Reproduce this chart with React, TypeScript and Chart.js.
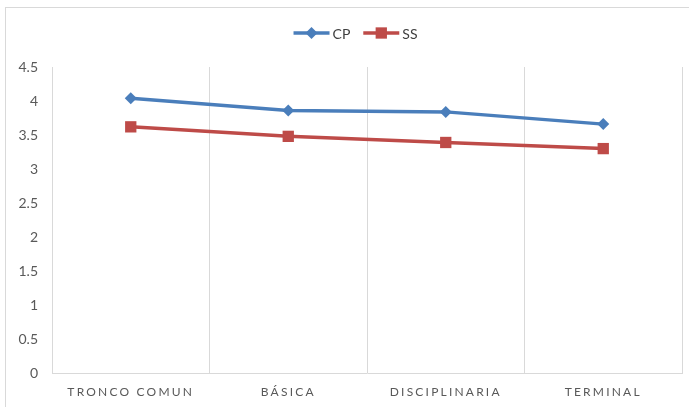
import React, { useEffect, useRef } from "react";
import { Chart, registerables } from "chart.js";

Chart.register(...registerables);

const categories = ["TRONCO COMUN", "BÁSICA", "DISCIPLINARIA", "TERMINAL"];
const cpValues = [4.04, 3.86, 3.84, 3.66];
const ssValues = [3.62, 3.48, 3.39, 3.3];
const seriesNames = ["CP", "SS"];
const yMin = 0;
const yMax = 4.5;
const yStep = 0.5;

const BLUE = "#4A7EBB";
const RED = "#BE4B48";
const FONT = "Lato, 'Open Sans', sans-serif";

function drawMarker(ctx: CanvasRenderingContext2D, style: string, r: number, x: number, y: number, color: string) {
  ctx.save();
  ctx.fillStyle = color;
  ctx.beginPath();
  if (style === "rectRot") {
    ctx.moveTo(x, y - r);
    ctx.lineTo(x + r, y);
    ctx.lineTo(x, y + r);
    ctx.lineTo(x - r, y);
    ctx.closePath();
  } else {
    const s = Math.SQRT1_2 * r;
    ctx.rect(x - s, y - s, 2 * s, 2 * s);
  }
  ctx.fill();
  ctx.restore();
}

const legendPlugin = {
  id: "lineLegend",
  afterDraw(chart: any) {
    const ctx = chart.ctx;
    const items = [
      { label: seriesNames[0], color: BLUE, style: "rectRot", r: 6 },
      { label: seriesNames[1], color: RED, style: "rect", r: 8 },
    ];
    ctx.save();
    ctx.font = `14px ${FONT}`;
    const lineW = 36;
    const gapText = 3;
    const gapItem = 13;
    let total = 0;
    items.forEach((it, i) => {
      total += lineW + gapText + ctx.measureText(it.label).width;
      if (i < items.length - 1) total += gapItem;
    });
    let x = (chart.width - total) / 2 + 10;
    const y = 33;
    items.forEach((it) => {
      ctx.strokeStyle = it.color;
      ctx.lineWidth = 3.5;
      ctx.beginPath();
      ctx.moveTo(x, y);
      ctx.lineTo(x + lineW, y);
      ctx.stroke();
      drawMarker(ctx, it.style, it.r, x + lineW / 2, y, it.color);
      x += lineW + gapText;
      ctx.fillStyle = "#404040";
      ctx.textBaseline = "middle";
      ctx.textAlign = "left";
      ctx.fillText(it.label, x, y + 1);
      x += ctx.measureText(it.label).width + gapItem;
    });
    ctx.restore();
  },
};

const spacingPlugin = {
  id: "xLetterSpacing",
  beforeDraw(chart: any) {
    const s = chart.scales.x;
    if (s && !s.__wrapped) {
      const orig = s.drawLabels.bind(s);
      s.drawLabels = (area: any) => {
        const ctx = chart.ctx;
        ctx.save();
        (ctx as any).letterSpacing = "2.2px";
        orig(area);
        ctx.restore();
      };
      s.__wrapped = true;
    }
  },
};

export default function App() {
  const ref = useRef<HTMLCanvasElement | null>(null);

  useEffect(() => {
    document.body.style.margin = "0";
    if (!ref.current) return;
    const chart = new Chart(ref.current, {
      type: "line",
      data: {
        labels: categories,
        datasets: [
          {
            label: seriesNames[0],
            data: cpValues,
            borderColor: BLUE,
            backgroundColor: BLUE,
            borderWidth: 3.5,
            pointStyle: "rectRot",
            pointRadius: 6,
            pointHoverRadius: 6,
            pointBorderWidth: 0,
            tension: 0,
          },
          {
            label: seriesNames[1],
            data: ssValues,
            borderColor: RED,
            backgroundColor: RED,
            borderWidth: 3.5,
            pointStyle: "rect",
            pointRadius: 8,
            pointHoverRadius: 8,
            pointBorderWidth: 0,
            tension: 0,
          },
        ],
      },
      options: {
        animation: false,
        responsive: false,
        maintainAspectRatio: false,
        layout: { padding: { top: 67, right: 9, left: 0, bottom: 0 } },
        plugins: {
          legend: { display: false },
          tooltip: { enabled: false },
        },
        scales: {
          x: {
            offset: true,
            grid: { offset: true, color: "#D9D9D9", drawTicks: false, lineWidth: 1 },
            border: { color: "#D9D9D9" },
            ticks: {
              color: "#595959",
              font: { family: FONT, size: 12 },
              padding: 12,
              maxRotation: 0,
            },
            afterFit: (s: any) => {
              s.height = 34;
            },
          },
          y: {
            min: yMin,
            max: yMax,
            ticks: {
              stepSize: yStep,
              color: "#595959",
              font: { family: FONT, size: 14 },
              padding: 14,
              callback: (v: any) => String(Number(v)),
            },
            grid: { display: false, drawTicks: false },
            border: { color: "#D9D9D9" },
            afterFit: (s: any) => {
              s.width = 52;
            },
          },
        },
      },
      plugins: [legendPlugin, spacingPlugin],
    });
    return () => chart.destroy();
  }, []);

  return (
    <div style={{ position: "relative", width: 691, height: 407, overflow: "hidden", background: "#fff" }}>
      <div
        style={{
          position: "absolute",
          left: 5,
          top: 7,
          width: 684,
          height: 420,
          borderLeft: "1px solid #D9D9D9",
          borderTop: "1px solid #D9D9D9",
          boxSizing: "border-box",
        }}
      />
      <canvas ref={ref} width={691} height={407} style={{ position: "absolute", left: 0, top: 0 }} />
    </div>
  );
}
